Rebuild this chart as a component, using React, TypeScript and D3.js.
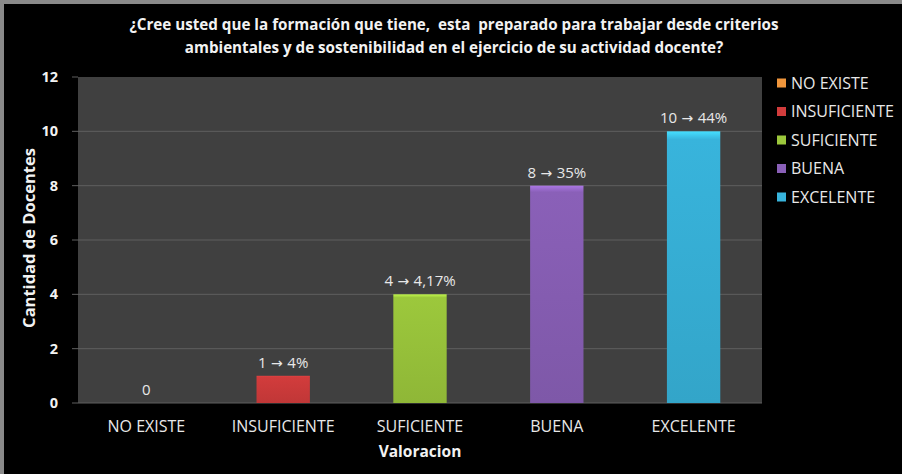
import React from "react";
import * as d3 from "d3";

const categories = ["NO EXISTE", "INSUFICIENTE", "SUFICIENTE", "BUENA", "EXCELENTE"];
const values = [0, 1, 4, 8, 10];
const valueCounts = ["0", "1", "4", "8", "10"];
const valuePercents = ["", "4%", "4,17%", "35%", "44%"];
const colors = ["#f0963c", "#d23c3c", "#9cc83c", "#8a60b8", "#38b4dc"];
const yTicks = [0, 2, 4, 6, 8, 10, 12];
const titleLines = [
  "¿Cree usted que la formación que tiene,  esta  preparado para trabajar desde criterios",
  "ambientales y de sostenibilidad en el ejercicio de su actividad docente?",
];

const W = 902;
const H = 474;
const plot = { left: 78, right: 762, top: 77, bottom: 403 };
const FONT = "'Open Sans', 'Noto Sans', sans-serif";

export default function App() {
  const x = d3.scaleBand<string>().domain(categories).range([plot.left, plot.right]).padding(0);
  const y = d3.scaleLinear().domain([0, 12]).range([plot.bottom, plot.top]);
  const barW = x.bandwidth() * 0.39;

  return (
    <svg
      width={W}
      height={H}
      style={{ position: "absolute", left: 0, top: 0, display: "block" }}
      fontFamily={FONT}
    >
      <defs>
        {colors.map((c, i) => (
          <linearGradient key={i} id={`g${i}`} x1="0" y1="0" x2="0" y2="1">
            <stop offset="0" stopColor={d3.color(c)!.brighter(0.6).formatHex()} />
            <stop offset="0.03" stopColor={c} />
            <stop offset="1" stopColor={d3.color(c)!.darker(0.25).formatHex()} />
          </linearGradient>
        ))}
      </defs>
      <rect x={0} y={0} width={W} height={H} fill="#8a8a8a" />
      <rect x={4} y={4} width={W - 4} height={H - 4} fill="#000" />
      {titleLines.map((t, i) => (
        <text
          key={i}
          x={454}
          y={30 + i * 23}
          textAnchor="middle"
          fill="#f2f2f2"
          fontSize={15.2}
          fontWeight="bold"
          style={{ whiteSpace: "pre" }}
        >
          {t}
        </text>
      ))}
      <rect
        x={plot.left}
        y={plot.top}
        width={plot.right - plot.left}
        height={plot.bottom - plot.top}
        fill="#404040"
      />
      {yTicks.map((t) => (
        <g key={t}>
          <line
            x1={plot.left - 6}
            x2={t === 0 || t === 12 ? plot.left : plot.right}
            y1={y(t)}
            y2={y(t)}
            stroke="#5e5e5e"
            strokeWidth={1}
          />
          <text
            x={plot.left - 20}
            y={y(t)}
            dy="0.35em"
            textAnchor="end"
            fill="#f2f2f2"
            fontSize={14.5}
            fontWeight="bold"
          >
            {t}
          </text>
        </g>
      ))}
      <line x1={plot.left} x2={plot.right} y1={plot.bottom} y2={plot.bottom} stroke="#5e5e5e" />
      {categories.map((c, i) => {
        const cx = (x(c) as number) + x.bandwidth() / 2;
        return (
          <g key={c}>
            {values[i] > 0 && (
              <rect
                x={cx - barW / 2}
                y={y(values[i])}
                width={barW}
                height={y(0) - y(values[i])}
                fill={`url(#g${i})`}
              />
            )}
            <text
              x={cx}
              y={y(values[i]) - 8}
              textAnchor="middle"
              fill="#e8e8e8"
              fontSize={15}
              style={{ whiteSpace: "pre" }}
            >
              {valueCounts[i]}
              {valuePercents[i] && (
                <>
                  <tspan fontFamily="'DejaVu Sans', sans-serif" fontSize={14}>
                    {" → "}
                  </tspan>
                  {valuePercents[i]}
                </>
              )}
            </text>
            <text x={cx} y={432} textAnchor="middle" fill="#e8e8e8" fontSize={16}>
              {c}
            </text>
          </g>
        );
      })}
      <text
        x={(plot.left + plot.right) / 2}
        y={457}
        textAnchor="middle"
        fill="#f2f2f2"
        fontSize={15.5}
        fontWeight="bold"
      >
        Valoracion
      </text>
      <text
        transform={`translate(35, ${(plot.top + plot.bottom) / 2 - 2}) rotate(-90)`}
        textAnchor="middle"
        fill="#f2f2f2"
        fontSize={16.5}
        fontWeight="bold"
      >
        Cantidad de Docentes
      </text>
      {categories.map((c, i) => (
        <g key={c} transform={`translate(777, ${83 + i * 28.5})`}>
          <rect x={0} y={-4.5} width={9} height={9} fill={colors[i]} />
          <text x={14} y={0} dy="0.35em" fill="#e8e8e8" fontSize={16}>
            {c}
          </text>
        </g>
      ))}
    </svg>
  );
}
